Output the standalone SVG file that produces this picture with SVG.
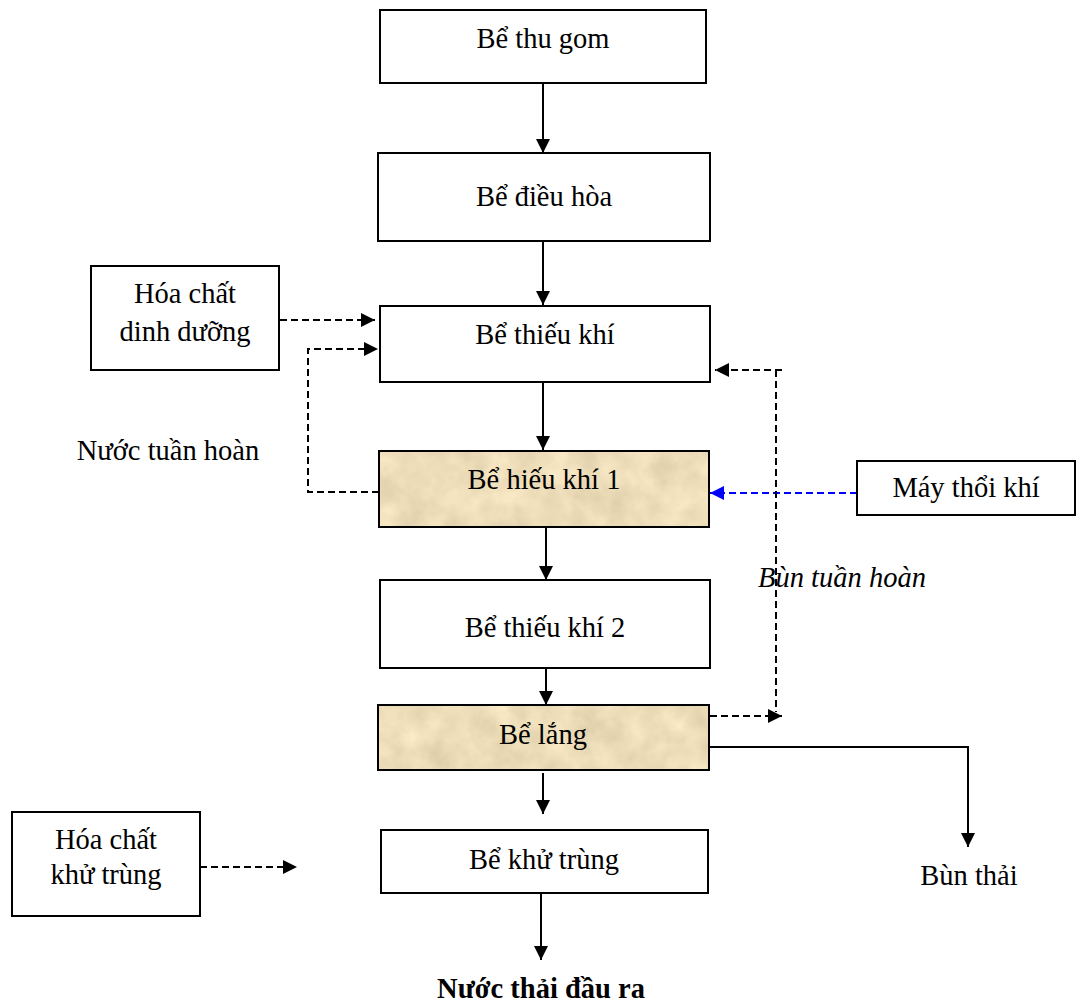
<svg xmlns="http://www.w3.org/2000/svg" width="1081" height="1006" viewBox="0 0 1081 1006">
<style>
  .box{fill:#ffffff;stroke:#000;stroke-width:2}
  .frame{fill:none;stroke:#000;stroke-width:2}
  .t{font-family:"Liberation Serif","Times New Roman",serif;font-size:28.5px;fill:#000;text-anchor:middle}
  .ti{font-style:italic}
  .tb{font-weight:bold}
  .solid{fill:none;stroke:#000;stroke-width:2}
  .dash{fill:none;stroke:#000;stroke-width:2;stroke-dasharray:7 4}
  .blue{fill:none;stroke:#0000ff;stroke-width:2;stroke-dasharray:7 4}
</style>
<defs>
  <marker id="ah" markerUnits="userSpaceOnUse" markerWidth="15" markerHeight="14" refX="14" refY="7" orient="auto">
    <path d="M0,0 L14,7 L0,14 z" fill="#000"/>
  </marker>
  <marker id="ahb" markerUnits="userSpaceOnUse" markerWidth="15" markerHeight="14" refX="14" refY="7" orient="auto">
    <path d="M0,0 L14,7 L0,14 z" fill="#0000ff"/>
  </marker>
  <filter id="parch" x="0" y="0" width="100%" height="100%" color-interpolation-filters="sRGB">
    <feTurbulence type="fractalNoise" baseFrequency="0.035" numOctaves="4" seed="7" result="n"/>
    <feColorMatrix in="n" type="matrix" values="0.16 0 0 0 0.85  0.16 0 0 0 0.785  0.16 0 0 0 0.645  0 0 0 0 1" result="c"/>
    <feComposite in="c" in2="SourceGraphic" operator="in"/>
  </filter>
</defs>

<g id="connectors">
  <line class="solid" x1="543" y1="83" x2="543" y2="153" marker-end="url(#ah)"/>
  <line class="solid" x1="543" y1="241" x2="543" y2="305" marker-end="url(#ah)"/>
  <line class="solid" x1="543" y1="382" x2="543" y2="450" marker-end="url(#ah)"/>
  <line class="solid" x1="546" y1="527" x2="546" y2="580" marker-end="url(#ah)"/>
  <line class="solid" x1="546" y1="668" x2="546" y2="705" marker-end="url(#ah)"/>
  <line class="solid" x1="543" y1="773" x2="543" y2="814" marker-end="url(#ah)"/>
  <line class="solid" x1="541" y1="893" x2="541" y2="960" marker-end="url(#ah)"/>
  <line class="dash" x1="280" y1="320" x2="375" y2="320" marker-end="url(#ah)"/>
  <polyline class="dash" points="379,492 308,492 308,349 378,349" marker-end="url(#ah)"/>
  <line class="blue" x1="857" y1="493" x2="710" y2="493" marker-end="url(#ahb)"/>
  <line class="dash" x1="782" y1="370" x2="715" y2="370" marker-end="url(#ah)"/>
  <line class="dash" x1="776" y1="370" x2="776" y2="712"/>
  <line class="dash" x1="710" y1="716" x2="782" y2="716" marker-end="url(#ah)"/>
  <polyline class="solid" points="710,747 968,747 968,847" marker-end="url(#ah)"/>
  <line class="dash" x1="200" y1="867" x2="297" y2="867" marker-end="url(#ah)"/>
</g>

<g id="be-thu-gom">
  <rect class="box" x="380" y="10" width="326" height="73"/>
  <text class="t" x="543" y="48">Bể thu gom</text>
</g>
<g id="be-dieu-hoa">
  <rect class="box" x="378" y="153" width="332" height="88"/>
  <text class="t" x="544" y="206">Bể điều hòa</text>
</g>
<g id="be-thieu-khi">
  <rect class="box" x="380" y="306" width="330" height="76"/>
  <text class="t" x="545" y="344">Bể thiếu khí</text>
</g>
<g id="be-hieu-khi-1">
  <rect x="379" y="451" width="330" height="76" fill="#ecdcb8" filter="url(#parch)"/>
  <rect class="frame" x="379" y="451" width="330" height="76"/>
  <text class="t" x="544" y="489">Bể hiếu khí 1</text>
</g>
<g id="be-thieu-khi-2">
  <rect class="box" x="380" y="580" width="330" height="88"/>
  <text class="t" x="545" y="637">Bể thiếu khí 2</text>
</g>
<g id="be-lang">
  <rect x="378" y="705" width="331" height="65" fill="#ecdcb8" filter="url(#parch)"/>
  <rect class="frame" x="378" y="705" width="331" height="65"/>
  <text class="t" x="543" y="744">Bể lắng</text>
</g>
<g id="be-khu-trung">
  <rect class="box" x="381" y="830" width="327" height="63"/>
  <text class="t" x="544" y="869">Bể khử trùng</text>
</g>
<g id="hoa-chat-dinh-duong">
  <rect class="box" x="91" y="266" width="188" height="104"/>
  <text class="t" x="185" y="303">Hóa chất</text>
  <text class="t" x="185" y="341">dinh dưỡng</text>
</g>
<g id="may-thoi-khi">
  <rect class="box" x="857" y="461" width="218" height="54"/>
  <text class="t" x="966" y="497">Máy thổi khí</text>
</g>
<g id="hoa-chat-khu-trung">
  <rect class="box" x="12" y="812" width="188" height="104"/>
  <text class="t" x="106" y="849">Hóa chất</text>
  <text class="t" x="106" y="884">khử trùng</text>
</g>
<g id="labels">
  <text class="t" x="168" y="460">Nước tuần hoàn</text>
  <text class="t ti" x="842" y="587">Bùn tuần hoàn</text>
  <text class="t" x="969" y="885">Bùn thải</text>
  <text class="t tb" x="541" y="998">Nước thải đầu ra</text>
</g>
</svg>
